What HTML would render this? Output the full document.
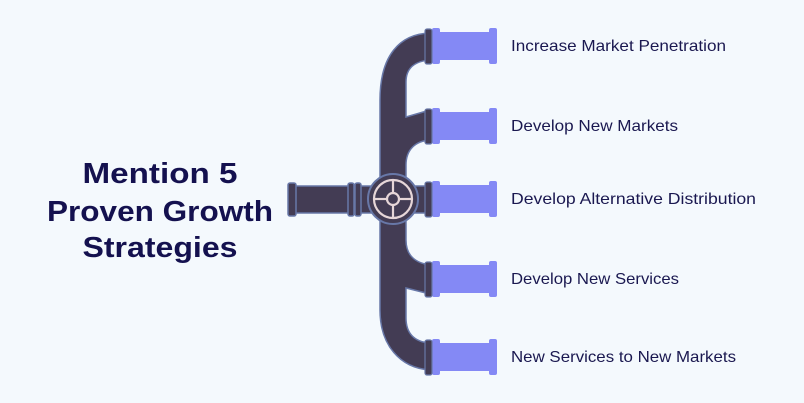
<!DOCTYPE html>
<html><head><style>
html,body{margin:0;padding:0;background:#f4f9fd;}
.w{position:relative;width:804px;height:403px;overflow:hidden;background:#f4f9fd;font-family:"Liberation Sans",sans-serif;}
</style></head><body><div class="w">
<svg width="804" height="403" viewBox="0 0 804 403" xmlns="http://www.w3.org/2000/svg">
<g fill="#14114f" font-family="Liberation Sans, sans-serif" font-weight="bold" font-size="29" text-anchor="middle">
<text x="160" y="183" textLength="155" lengthAdjust="spacingAndGlyphs">Mention 5</text>
<text x="160" y="221" textLength="226" lengthAdjust="spacingAndGlyphs">Proven Growth</text>
<text x="160" y="257" textLength="155" lengthAdjust="spacingAndGlyphs">Strategies</text>
</g>
<g fill="#1a1850" font-family="Liberation Sans, sans-serif" font-size="16">
<text x="511" y="51" textLength="215" lengthAdjust="spacingAndGlyphs">Increase Market Penetration</text>
<text x="511" y="131" textLength="167" lengthAdjust="spacingAndGlyphs">Develop New Markets</text>
<text x="511" y="204" textLength="245" lengthAdjust="spacingAndGlyphs">Develop Alternative Distribution</text>
<text x="511" y="284" textLength="168" lengthAdjust="spacingAndGlyphs">Develop New Services</text>
<text x="511" y="362" textLength="225" lengthAdjust="spacingAndGlyphs">New Services to New Markets</text>
</g>
<path d="M430,33 C400,34 380,55 380,100 L380,310 C380,345 400,368 430,370 L430,343 C414,342 406,333 406,318 L406,288 L430,294 L430,265 C415,263 406,255 406,240 L406,165 C406,150 415,141 430,140 L430,110 L406,117 L406,82 C406,68 415,61 430,60 Z" fill="#433c54" stroke="#6878a8" stroke-width="1.5"/>
<rect x="292" y="186" width="80" height="27" fill="#433c54" stroke="#6878a8" stroke-width="1.5"/>
<rect x="288" y="183" width="8" height="33" rx="2" fill="#433c54" stroke="#6878a8" stroke-width="1.5"/>
<rect x="348" y="183" width="6" height="33" rx="2" fill="#433c54" stroke="#6878a8" stroke-width="1.5"/>
<rect x="355" y="183" width="6" height="33" rx="2" fill="#433c54" stroke="#6878a8" stroke-width="1.5"/>
<rect x="414" y="186" width="16" height="27" fill="#433c54" stroke="#6878a8" stroke-width="1.5"/>
<g fill="#8489f5">
<rect x="432" y="32" width="64" height="28"/><rect x="432" y="28" width="8" height="36" rx="2"/><rect x="489" y="28" width="8" height="36" rx="2"/>
<rect x="432" y="112" width="64" height="28"/><rect x="432" y="108" width="8" height="36" rx="2"/><rect x="489" y="108" width="8" height="36" rx="2"/>
<rect x="432" y="185" width="64" height="28"/><rect x="432" y="181" width="8" height="36" rx="2"/><rect x="489" y="181" width="8" height="36" rx="2"/>
<rect x="432" y="265" width="64" height="28"/><rect x="432" y="261" width="8" height="36" rx="2"/><rect x="489" y="261" width="8" height="36" rx="2"/>
<rect x="432" y="343" width="64" height="28"/><rect x="432" y="339" width="8" height="36" rx="2"/><rect x="489" y="339" width="8" height="36" rx="2"/>
</g>
<g fill="#433c54" stroke="#6878a8" stroke-width="1.2">
<rect x="425" y="29" width="7" height="35" rx="2"/>
<rect x="425" y="109" width="7" height="35" rx="2"/>
<rect x="425" y="182" width="7" height="35" rx="2"/>
<rect x="425" y="262" width="7" height="35" rx="2"/>
<rect x="425" y="340" width="7" height="35" rx="2"/>
</g>
<circle cx="393" cy="199" r="25" fill="#433c54" stroke="#6878a8" stroke-width="2"/>
<circle cx="393" cy="199" r="19" fill="none" stroke="#e6d6d8" stroke-width="2.2"/>
<circle cx="393" cy="199" r="6" fill="none" stroke="#e6d6d8" stroke-width="2.2"/>
<g stroke="#e6d6d8" stroke-width="2.2">
<line x1="374" y1="199" x2="387" y2="199"/><line x1="399" y1="199" x2="412" y2="199"/>
<line x1="393" y1="180" x2="393" y2="193"/><line x1="393" y1="205" x2="393" y2="218"/>
</g>
</svg>
</div></body></html>
